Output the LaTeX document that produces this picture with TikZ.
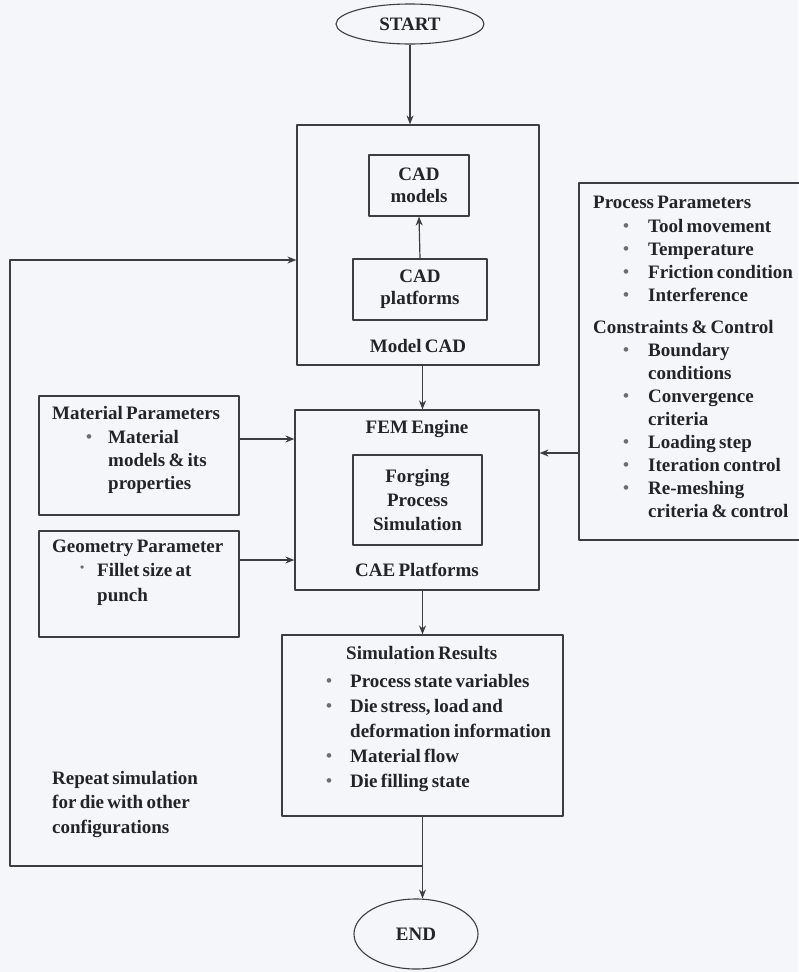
\documentclass[tikz,border=0pt]{standalone}
\usepackage{fontspec}
\setmainfont[WordSpace=0.7]{Liberation Serif}
\usetikzlibrary{shapes.geometric,positioning,arrows.meta}

\definecolor{paper}{HTML}{F4F6F9}
\definecolor{edge}{HTML}{3A3D42}
\definecolor{ink}{HTML}{222428}
\definecolor{dotgrey}{HTML}{6A6E72}

% bullet with its hanging indent, and the indent for a wrapped line
\newcommand{\itm}[1][24pt]{\makebox[#1][l]{\textcolor{dotgrey}{\raisebox{0.1ex}{\fontsize{17}{17}\selectfont\textbullet}}}}
\newcommand{\cnt}[1][24pt]{\hspace*{#1}}
\newcommand{\lsp}[1]{\fontsize{19}{#1}\selectfont}

\begin{document}
\begin{tikzpicture}[x=1pt, y=-1pt, line join=round, >={Stealth[length=9pt,width=7pt]},
	every node/.style={font=\bfseries\lsp{21}, text=ink},
	blk/.style={draw=edge, line width=1.2pt, rectangle, inner sep=0pt},
	oval/.style={draw=edge, line width=1.1pt, ellipse, inner sep=0pt},
	txt/.style={align=left, anchor=north west, inner sep=0pt},
	flow/.style={->, draw=edge, line width=1.2pt}]
	\fill[paper] (0,0) rectangle (798,972);
	\useasboundingbox (0,0) rectangle (798,972);

	% main column
	\node[oval, minimum width=148pt, minimum height=40pt] (start) at (410,24) {START};
	\node[blk, minimum width=242pt, minimum height=240pt] (modelcad) at (418,245) {};
	\node[blk, minimum width=100pt, minimum height=61pt, align=center, font=\bfseries\lsp{22}] (cadmod) at (419,185.5) {CAD\\models};
	\node[blk, minimum width=134pt, minimum height=61pt, align=center, font=\bfseries\lsp{22}] (cadplat) at (420,289.5) {CAD\\platforms};
	\node (modellbl) at (418,346) {Model CAD};

	\node[blk, minimum width=244pt, minimum height=180pt] (fem) at (417,500) {};
	\node (femlbl) at (417,429) {FEM Engine};
	\node[blk, minimum width=129pt, minimum height=90pt, align=center, font=\bfseries\lsp{24}] (forging) at (417.5,500) {Forging\\Process\\Simulation};
	\node (caelbl) at (417,570) {CAE Platforms};

	\node[blk, minimum width=281pt, minimum height=181pt] (simres) at (422.5,725.5) {};
	\node[txt] (simtitle) at (346,646) {Simulation Results};
	\node[txt, font=\bfseries\lsp{25}] (simlist) at (326,674) {\itm Process state variables\\\itm Die stress, load and\\\cnt deformation information\\\itm Material flow\\\itm Die filling state};

	\node[oval, minimum width=124pt, minimum height=70pt] (finish) at (416,934) {END};

	% inputs on the left
	\node[blk, minimum width=200pt, minimum height=119pt] (matpar) at (139,455.5) {};
	\node[txt] (mattitle) at (52,406) {Material Parameters};
	\node[txt, font=\bfseries\lsp{23}] (matlist) at (86,430) {\itm[22pt]Material\\\cnt[22pt]models \& its\\\cnt[22pt]properties};

	\node[blk, minimum width=200pt, minimum height=106pt] (geopar) at (139,584) {};
	\node[txt] (geotitle) at (52,540) {Geometry Parameter};
	\node[txt, font=\bfseries\lsp{25}] (geolist) at (80,563) {\makebox[17pt][l]{\textcolor{dotgrey}{\raisebox{5pt}{\fontsize{12}{12}\selectfont\textbullet}}}Fillet size at\\\cnt[17pt]punch};

	\node[txt, font=\bfseries\lsp{24.5}] (repeat) at (52,771) {Repeat simulation\\for die with other\\configurations};

	% inputs on the right
	\node[blk, minimum width=226pt, minimum height=357pt] (procpar) at (692,361.5) {};
	\node[txt] (proctitle) at (593,196) {Process Parameters};
	\node[txt, font=\bfseries\lsp{23}] (proclist) at (623,219) {\itm[25pt]Tool movement\\\itm[25pt]Temperature\\\itm[25pt]Friction condition\\\itm[25pt]Interference};
	\node[txt] (contitle) at (593,320) {Constraints \& Control};
	\node[txt, font=\bfseries\lsp{23}] (conlist) at (623,343) {\itm[25pt]Boundary\\\cnt[25pt]conditions\\\itm[25pt]Convergence\\\cnt[25pt]criteria\\\itm[25pt]Loading step\\\itm[25pt]Iteration control\\\itm[25pt]Re-meshing\\\cnt[25pt]criteria \& control};

	% connectors
	\coordinate (loopbot) at (10,866);
	\coordinate (looptop) at (10,260);
	\draw[flow] (start.south) -- (start.south |- modelcad.north);
	\draw[flow] (cadplat.north) -- (cadmod.south);
	\draw[flow] (modelcad.south -| simres.north) -- (fem.north -| simres.north);
	\draw[flow] (fem.south -| simres.north) -- (simres.north);
	\draw[flow] (simres.south) -- (simres.south |- finish.north);
	\draw[flow] ([yshift=16.5pt]matpar.east) coordinate (m1) -- (m1 -| fem.west);
	\draw[flow] ([yshift=24pt]geopar.east) coordinate (g1) -- (g1 -| fem.west);
	\draw[flow] ([yshift=-91.5pt]procpar.west) coordinate (p1) -- (p1 -| fem.east);
	\draw[flow] (simres.south |- loopbot) -- (loopbot) -- (looptop) -- (looptop -| modelcad.west);
\end{tikzpicture}
\end{document}
